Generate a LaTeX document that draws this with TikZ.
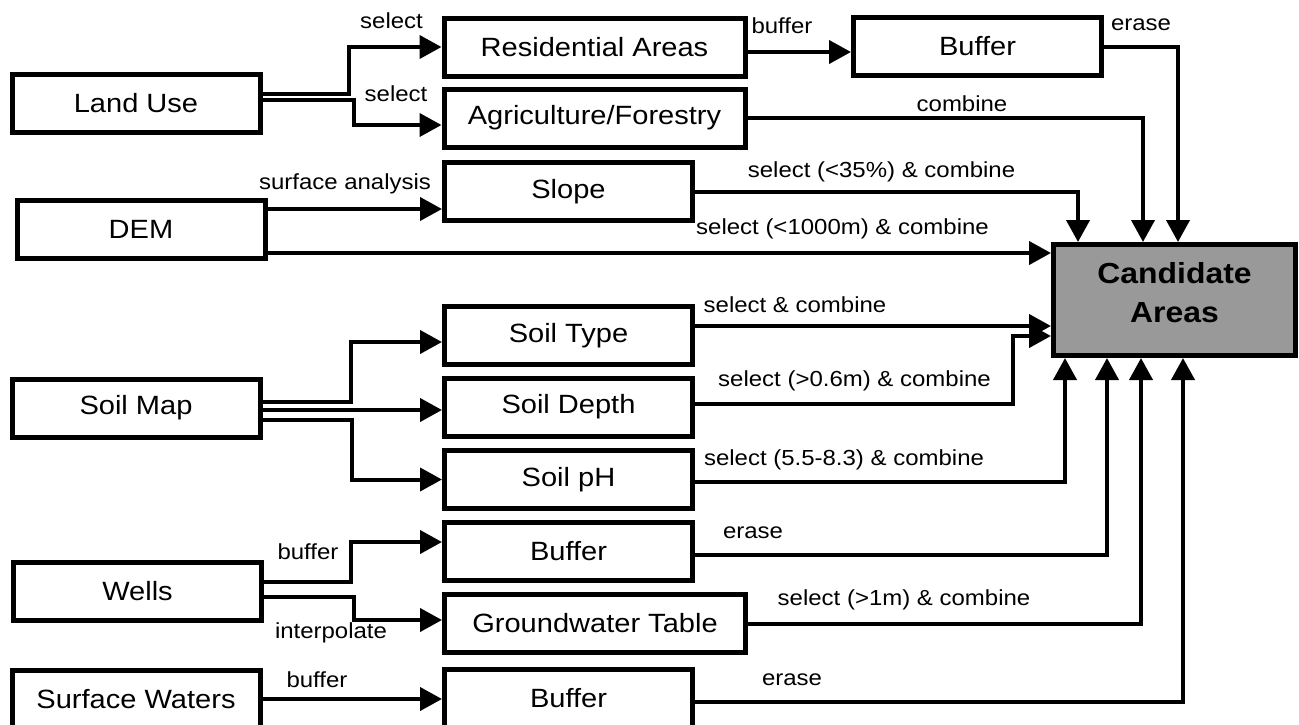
\documentclass[tikz,border=0pt]{standalone}
\usepackage{fontspec}
\setmainfont{Liberation Sans}[FakeStretch=1.1]
\usepackage{tikz}
\usetikzlibrary{arrows.meta}
\definecolor{candgray}{RGB}{153,153,153}
\newcommand{\boxfont}{\fontsize{13.2pt}{15pt}\selectfont}
\newcommand{\lblfont}{\fontsize{10.9pt}{12pt}\selectfont}

\begin{document}
\begin{tikzpicture}[x=0.5pt,y=-0.5pt,
  layer/.style={draw,line width=2.5pt,minimum width=124pt,minimum height=29pt,inner sep=0pt,font=\boxfont},
  wide/.style={layer,minimum width=150.5pt},
  target/.style={draw,line width=2.5pt,fill=candgray,minimum width=121pt,minimum height=55.5pt,
    align=center,text depth=7.5pt,font=\bfseries\fontsize{14.5pt}{19.5pt}\selectfont},
  flow/.style={line width=2pt,-{Triangle[length=11pt,width=11.5pt]}},
  op/.style={font=\lblfont,inner sep=0pt}]
  \useasboundingbox (0,0) rectangle (1299,724);
  \clip (0,0) rectangle (1299,724);

  % input layers
  \node[layer] (lu) at (136,103.5) {Land Use};
  \node[layer] (dem) at (141,229) {DEM};
  \node[layer] (soil) at (136,408) {Soil Map};
  \node[layer] (wells) at (137.5,591) {Wells};
  \node[layer] (surf) at (136,699) {Surface Waters};

  % derived layers
  \node[wide] (res) at (594.5,47) {Residential Areas};
  \node[wide] (agr) at (594.5,118) {Agriculture/Forestry};
  \node[layer] (slope) at (568.5,191.5) {Slope};
  \node[layer] (stype) at (568.5,335.5) {Soil Type};
  \node[layer] (sdepth) at (568.5,407) {Soil Depth};
  \node[layer] (sph) at (568.5,479.5) {Soil pH};
  \node[layer] (wbuf) at (568.5,551.5) {Buffer};
  \node[wide] (gw) at (595,623.5) {Groundwater Table};
  \node[layer] (sbuf) at (568.5,698) {Buffer};
  \node[layer] (rbuf) at (977.5,46.5) {Buffer};

  \node[target] (cand) at (1174.5,300) {Candidate\\Areas};

  % operations
  \draw[flow] ([yshift=4.75pt]lu.east) -- ++(86,0) |- (res.west);
  \draw[flow] ([yshift=2pt]lu.east) -- ++(91,0) |- ([yshift=-3.5pt]agr.west);
  \draw[flow] ([yshift=10pt]dem.east) -- ([yshift=10pt]dem.east -| slope.west);
  \draw[flow] ([yshift=-12pt]dem.east) -- ([yshift=-12pt]dem.east -| cand.west);
  \draw[flow] ([yshift=3pt]soil.east) -- ++(88,0) |- ([yshift=-3.25pt]stype.west);
  \draw[flow] ([yshift=-1pt]soil.east) -- ([yshift=-1pt]soil.east -| sdepth.west);
  \draw[flow] ([yshift=-6pt]soil.east) -- ++(89,0) |- (sph.west);
  \draw[flow] ([yshift=4.5pt]wells.east) -- ++(87,0) |- ([yshift=4.75pt]wbuf.west);
  \draw[flow] ([yshift=-3pt]wells.east) -- ++(90,0) |- ([yshift=1.75pt]gw.west);
  \draw[flow] (surf.east) -- (surf.east -| sbuf.west);
  \draw[flow] ([yshift=-2.5pt]res.east) -- ([yshift=-2.5pt]res.east -| rbuf.west);

  \draw[flow] (rbuf.east) -| ([xshift=1.75pt]cand.north);
  \draw[flow] (agr.east) -| ([xshift=-15.75pt]cand.north);
  \draw[flow] (slope.east) -| ([xshift=-48.25pt]cand.north);
  \draw[flow] ([yshift=4.75pt]stype.east) -- ([yshift=4.75pt]stype.east -| cand.west);
  \draw[flow] ([yshift=1.5pt]sdepth.east) -- ++(318,0) |- ([yshift=-18pt]cand.west);
  \draw[flow] ([yshift=-1.25pt]sph.east) -| ([xshift=-54.75pt]cand.south);
  \draw[flow] ([yshift=-1.75pt]wbuf.east) -| ([xshift=-33.75pt]cand.south);
  \draw[flow] (gw.east) -| ([xshift=-16.75pt]cand.south);
  \draw[flow] ([yshift=-2pt]sbuf.east) -| ([xshift=4.25pt]cand.south);

  % labels
  \node[op] (selres) at (391.5,21) {select};
  \node[op] (selagr) at (396,94) {select};
  \node[op] (surfan) at (345,184) {surface analysis};
  \node[op] (bufres) at (782,26) {buffer};
  \node[op] (erres) at (1141,25) {erase};
  \node[op] (cmbagr) at (962,104) {combine};
  \node[op] (selslope) at (881.5,172) {select (<35\%) \& combine};
  \node[op] (seldem) at (842.5,229) {select (<1000m) \& combine};
  \node[op] (seltype) at (795,305) {select \& combine};
  \node[op] (seldepth) at (854.5,381) {select (>0.6m) \& combine};
  \node[op] (selph) at (844,460) {select (5.5-8.3) \& combine};
  \node[op] (bufwells) at (308,552) {buffer};
  \node[op] (interp) at (331,633) {interpolate};
  \node[op] (erwells) at (753,533) {erase};
  \node[op] (selgw) at (904,600) {select (>1m) \& combine};
  \node[op] (bufsurf) at (317,680) {buffer};
  \node[op] (ersurf) at (792,680) {erase};
\end{tikzpicture}
\end{document}
